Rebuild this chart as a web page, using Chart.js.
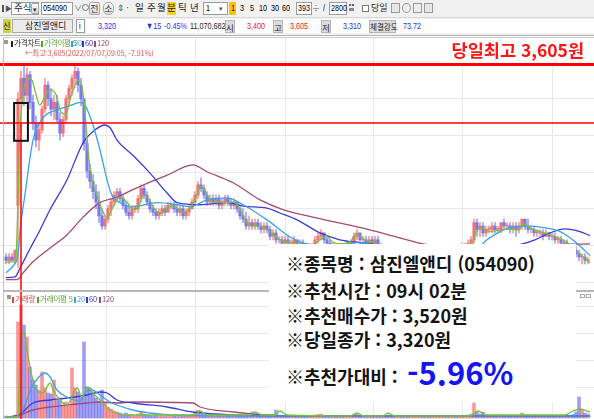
<!DOCTYPE html>
<html lang="ko">
<head>
<meta charset="utf-8">
<script src="https://cdn.jsdelivr.net/npm/chart.js@4.4.0/dist/chart.umd.min.js"></script>
<style>
html,body{margin:0;padding:0;background:#fff;}
#wrap{position:relative;width:594px;height:419px;overflow:hidden;font-family:"Noto Sans CJK KR","Noto Sans",sans-serif;background:#fff;}
.abs{position:absolute;white-space:nowrap;}
.num{font-family:"Liberation Sans",sans-serif;font-size:9px;line-height:14px;transform:scaleX(0.8);transform-origin:0 50%;}
.box{background:#fff;border:1px solid #9a9a9a;box-sizing:border-box;}
.btn{background:linear-gradient(#fbfbfb,#dcdcdc);border:1px solid #a8a8a8;border-radius:2px;box-sizing:border-box;text-align:center;font-size:9px;line-height:11px;color:#333;}
.lbl{background:#dcdcdc;border:1px solid #b4b4b4;box-sizing:border-box;text-align:center;font-size:8.5px;line-height:12px;color:#222;}
.kr{font-size:9.5px;line-height:13px;color:#222;}
.leg{font-size:7.5px;line-height:9px;letter-spacing:-0.2px;}
.mk{display:inline-block;width:2px;height:6px;margin-right:1px;vertical-align:-0.5px;}
.memo{font-weight:700;font-size:18px;line-height:20px;color:#141414;left:286px;}
canvas{position:absolute;left:0;}
</style>
</head>
<body>
<div id="wrap">
  <!-- toolbar row 1 -->
  <div class="abs" style="left:0;top:0;width:594px;height:17px;background:#f1f1f1;"></div>
  <div class="abs" style="left:2px;top:5px;width:2px;height:7px;background:#555;"></div>
  <div class="abs" style="left:5px;top:2px;font-size:7px;line-height:12px;color:#555;">▶</div>
  <div class="abs box" style="left:11px;top:2px;width:28px;height:13px;"></div>
  <div class="abs kr" style="left:14px;top:1px;">주식</div>
  <div class="abs btn" style="left:31px;top:3px;width:8px;height:11px;font-size:7px;">▾</div>
  <div class="abs box" style="left:41px;top:2px;width:32px;height:13px;"></div>
  <div class="abs num" style="left:43px;top:1px;">054090</div>
  <div class="abs" style="left:74px;top:2px;font-size:8px;line-height:12px;color:#666;">∨</div>
  <div class="abs" style="left:82px;top:4px;width:5px;height:5px;border:1px solid #777;border-radius:50%;"></div>
  <div class="abs btn" style="left:89px;top:2px;width:11px;height:13px;">전</div>
  <div class="abs btn" style="left:103px;top:2px;width:11px;height:13px;border-radius:5px;">소</div>
  <div class="abs" style="left:117px;top:1px;font-size:9px;line-height:14px;color:#555;">⇕·</div>
  <div class="abs kr" style="left:135px;top:1px;">일</div>
  <div class="abs kr" style="left:147px;top:1px;">주</div>
  <div class="abs kr" style="left:157px;top:1px;">월</div>
  <div class="abs" style="left:167px;top:2px;width:9px;height:13px;background:#ffd21f;"></div>
  <div class="abs kr" style="left:167px;top:1px;">분</div>
  <div class="abs kr" style="left:178px;top:1px;">틱</div>
  <div class="abs kr" style="left:190px;top:1px;">년</div>
  <div class="abs box" style="left:203px;top:2px;width:25px;height:13px;"></div>
  <div class="abs num" style="left:206px;top:1px;">1</div>
  <div class="abs" style="left:219px;top:1px;font-size:7px;line-height:14px;color:#555;">▾</div>
  <div class="abs" style="left:229px;top:2px;width:7px;height:13px;background:#ffc400;"></div>
  <div class="abs num" style="left:231px;top:1px;color:#222;">1</div>
  <div class="abs num" style="left:240px;top:1px;">3</div>
  <div class="abs num" style="left:250px;top:1px;">5</div>
  <div class="abs num" style="left:259px;top:1px;">10</div>
  <div class="abs num" style="left:271px;top:1px;">30</div>
  <div class="abs num" style="left:282px;top:1px;">60</div>
  <div class="abs box" style="left:296px;top:2px;width:16px;height:13px;"></div>
  <div class="abs num" style="left:298px;top:1px;">393</div>
  <div class="abs" style="left:312px;top:1px;font-size:8px;line-height:14px;color:#555;">÷</div>
  <div class="abs num" style="left:323px;top:1px;">/</div>
  <div class="abs box" style="left:329px;top:2px;width:18px;height:13px;"></div>
  <div class="abs num" style="left:331px;top:1px;">2800</div>
  <div class="abs" style="left:349px;top:4px;width:2px;height:2px;background:#e03030;"></div>
  <div class="abs" style="left:352px;top:4px;width:2px;height:2px;background:#3060e0;"></div>
  <div class="abs" style="left:349px;top:8px;width:5px;height:3px;background:#888;"></div>
  <div class="abs" style="left:362px;top:5px;width:7px;height:7px;border:1px solid #777;background:#fff;box-sizing:border-box;"></div>
  <div class="abs kr" style="left:371px;top:1px;font-size:9px;">당일</div>
  <div class="abs" style="left:391px;top:3px;width:9px;height:10px;border:1px solid #999;background:#e6e6e6;box-sizing:border-box;"></div>
  <div class="abs" style="left:402px;top:3px;width:9px;height:10px;border:1px solid #999;border-radius:50%;background:#eee;box-sizing:border-box;"></div>
  <div class="abs" style="left:413px;top:3px;width:9px;height:10px;border:1px solid #999;background:#eee;box-sizing:border-box;"></div>
  <div class="abs" style="left:424px;top:3px;width:9px;height:10px;border:1px solid #999;background:#e6e6e6;box-sizing:border-box;"></div>

  <!-- toolbar row 2 -->
  <div class="abs" style="left:0;top:17px;width:594px;height:18px;background:#f1f1f1;border-top:1px solid #d8d8d8;box-sizing:border-box;"></div>
  <div class="abs" style="left:86px;top:19px;width:508px;height:14px;background:#fff;"></div>
  <div class="abs" style="left:3px;top:19px;width:8px;height:14px;background:#c8d24c;"></div>
  <div class="abs kr" style="left:3px;top:19px;font-size:8px;">신</div>
  <div class="abs" style="left:12px;top:19px;width:61px;height:14px;background:#ebebeb;border:1px solid #a8a8a8;box-sizing:border-box;"></div>
  <div class="abs kr" style="left:25px;top:19px;font-size:9px;">삼진엘앤디</div>
  <div class="abs box" style="left:76px;top:19px;width:9px;height:14px;"></div>
  <div class="abs num" style="left:79px;top:19px;">i</div>
  <div class="abs num" style="left:98px;top:19px;color:#2233ee;">3,320</div>
  <div class="abs num" style="left:146px;top:19px;color:#2233ee;">▼15</div>
  <div class="abs num" style="left:164px;top:19px;color:#2233ee;">-0.45%</div>
  <div class="abs num" style="left:190px;top:19px;color:#222;">11,070,682</div>
  <div class="abs lbl" style="left:225px;top:20px;width:10px;height:13px;">시</div>
  <div class="abs num" style="left:247px;top:19px;color:#ee2020;">3,400</div>
  <div class="abs lbl" style="left:273px;top:20px;width:10px;height:13px;">고</div>
  <div class="abs num" style="left:290px;top:19px;color:#ee2020;">3,605</div>
  <div class="abs lbl" style="left:321px;top:20px;width:10px;height:13px;">저</div>
  <div class="abs num" style="left:343px;top:19px;color:#2233ee;">3,310</div>
  <div class="abs lbl" style="left:369px;top:20px;width:27px;height:13px;font-size:7.5px;">체결강도</div>
  <div class="abs num" style="left:403px;top:19px;color:#2233ee;">73.72</div>
  <div class="abs" style="left:0;top:35px;width:594px;height:1px;background:#b4b4b4;"></div>

  <!-- chart panes -->
  <canvas id="priceCanvas" width="594" height="252" style="top:38px;"></canvas>
  <canvas id="volCanvas" width="594" height="127" style="top:292px;"></canvas>
  <div class="abs" style="left:3px;top:37px;width:591px;height:1px;background:#cfcfcf;"></div>
  <div class="abs" style="left:3px;top:37px;width:1px;height:382px;background:#c4c4c4;"></div>
  <div class="abs" style="left:3px;top:290px;width:591px;height:2px;background:#b8b8b8;"></div>

  <!-- price pane legend -->
  <div class="abs" style="left:4px;top:40px;width:4px;height:4px;background:#9a9a9a;"></div>
  <div class="abs leg" style="left:11px;top:38px;color:#222;"><span class="mk" style="background:#222"></span>가격차트</div>
  <div class="abs leg" style="left:41px;top:38px;color:#5aa42c;"><span class="mk" style="background:#5aa42c"></span>가격이평 5</div>
  <div class="abs leg" style="left:71px;top:38px;color:#3a9fe0;"><span class="mk" style="background:#3a9fe0"></span>20</div>
  <div class="abs leg" style="left:82px;top:38px;color:#3434c8;"><span class="mk" style="background:#3434c8"></span>60</div>
  <div class="abs leg" style="left:94px;top:38px;color:#a04a72;"><span class="mk" style="background:#a04a72"></span>120</div>
  <div class="abs leg" style="left:25px;top:48px;color:#e45a5a;font-size:7.5px;">←최고:3,605(2022/07/07,09:05, -7.91%)</div>

  <!-- volume pane legend -->
  <div class="abs" style="left:7px;top:295px;width:4px;height:4px;background:#9a9a9a;"></div>
  <div class="abs leg" style="left:12px;top:294px;color:#e04848;"><span class="mk" style="background:#e04848"></span>거래량</div>
  <div class="abs leg" style="left:37px;top:294px;color:#5aa42c;"><span class="mk" style="background:#5aa42c"></span>거래이평 5</div>
  <div class="abs leg" style="left:74px;top:294px;color:#3a9fe0;"><span class="mk" style="background:#3a9fe0"></span>20</div>
  <div class="abs leg" style="left:86px;top:294px;color:#3434c8;"><span class="mk" style="background:#3434c8"></span>60</div>
  <div class="abs leg" style="left:99px;top:294px;color:#a04a72;"><span class="mk" style="background:#a04a72"></span>120</div>
  <div class="abs" style="left:580px;top:294px;width:5px;height:4px;border:1px solid #aaa;box-sizing:border-box;"></div>
  <div class="abs" style="left:586px;top:294px;width:5px;height:4px;border:1px solid #aaa;box-sizing:border-box;"></div>

  <!-- day high caption -->
  <div class="abs" style="left:440px;top:38px;width:154px;height:24px;background:#fff;"></div>
  <div class="abs" style="right:10px;top:38px;font-weight:700;font-size:17.5px;line-height:24px;color:#ff1414;">당일최고 3,605원</div>

  <!-- recommendation memo -->
  <div class="abs" style="left:269px;top:244px;width:307px;height:158px;background:#fff;"></div>
  <div class="abs memo" style="top:253px;">※종목명 : 삼진엘앤디 (054090)</div>
  <div class="abs memo" style="top:280px;">※추천시간 : 09시 02분</div>
  <div class="abs memo" style="top:305px;">※추천매수가 : 3,520원</div>
  <div class="abs memo" style="top:329px;">※당일종가 : 3,320원</div>
  <div class="abs memo" style="top:366px;">※추천가대비 :</div>
  <div class="abs" style="left:407px;top:354px;font-weight:700;font-size:31px;line-height:36px;color:#1414f5;">-5.96%</div>
</div>

<script>
// 2-minute bars from the previous day's last prints through the close
const opens = [
  3325,3320,3325,3320,3400,3555,3585,3560,3590,3550,
  3520,3495,3510,3540,3575,3555,3540,3550,3525,3505,
  3525,3555,3570,3585,3595,3575,3555,3490,3450,3435,
  3420,3405,3385,3370,3380,3395,3405,3415,3420,3410,
  3400,3390,3385,3395,3395,3410,3425,3415,3405,3395,
  3390,3385,3390,3395,3390,3400,3400,3395,3390,3395,
  3385,3390,3395,3405,3415,3430,3425,3415,3405,3410,
  3405,3410,3400,3405,3410,3405,3400,3405,3395,3385,
  3380,3370,3375,3370,3375,3370,3365,3370,3365,3355,
  3360,3350,3350,3345,3350,3345,3345,3350,3340,3345,
  3340,3335,3340,3340,3350,3355,3360,3350,3345,3340,
  3340,3335,3340,3335,3335,3340,3345,3355,3360,3350,
  3350,3345,3350,3345,3350,3340,3335,3335,3330,3330,
  3325,3330,3330,3325,3325,3320,3325,3325,3330,3330,
  3325,3325,3320,3320,3325,3325,3330,3330,3325,3330,
  3335,3330,3335,3340,3340,3345,3350,3375,3365,3370,
  3360,3365,3365,3370,3365,3365,3375,3370,3370,3365,
  3370,3365,3370,3380,3370,3365,3365,3360,3360,3360,
  3355,3360,3355,3355,3350,3350,3345,3345,3340,3340,
  3335,3330,3325,3325,3320
];
const highs = [
  3330,3330,3330,3335,3565,3595,3605,3600,3595,3560,
  3530,3520,3545,3585,3580,3570,3560,3560,3535,3530,
  3560,3575,3590,3605,3600,3585,3555,3495,3460,3445,
  3430,3420,3395,3385,3400,3410,3420,3425,3425,3415,
  3405,3400,3400,3400,3415,3430,3430,3420,3410,3400,
  3395,3395,3400,3400,3405,3405,3405,3400,3400,3400,
  3395,3400,3410,3420,3435,3440,3430,3420,3415,3415,
  3415,3415,3410,3415,3415,3410,3410,3405,3400,3395,
  3390,3385,3380,3380,3380,3375,3375,3375,3370,3365,
  3365,3355,3355,3355,3355,3350,3355,3350,3350,3350,
  3345,3345,3345,3355,3360,3365,3360,3355,3350,3345,
  3345,3345,3345,3340,3345,3350,3360,3365,3360,3355,
  3355,3355,3355,3355,3355,3345,3340,3340,3335,3335,
  3335,3335,3335,3330,3330,3330,3330,3335,3335,3335,
  3330,3330,3325,3330,3330,3335,3335,3335,3335,3340,
  3340,3340,3345,3345,3350,3355,3380,3380,3375,3375,
  3370,3370,3375,3375,3370,3375,3380,3375,3375,3375,
  3375,3375,3380,3380,3380,3370,3370,3365,3365,3365,
  3365,3360,3360,3360,3355,3355,3350,3350,3345,3345,
  3340,3335,3330,3330,3325
];
const lows = [
  3315,3315,3320,3315,3310,3505,3545,3550,3540,3510,
  3485,3480,3505,3535,3545,3530,3525,3520,3495,3500,
  3520,3545,3560,3575,3565,3545,3480,3440,3425,3410,
  3395,3375,3365,3365,3375,3385,3400,3405,3405,3395,
  3385,3380,3380,3390,3390,3405,3410,3400,3390,3385,
  3380,3380,3385,3385,3390,3395,3390,3385,3385,3380,
  3380,3385,3395,3400,3410,3420,3410,3400,3400,3400,
  3400,3395,3395,3400,3400,3395,3395,3390,3380,3375,
  3365,3365,3365,3365,3365,3360,3360,3360,3350,3350,
  3345,3345,3340,3340,3340,3340,3340,3335,3335,3335,
  3330,3330,3335,3335,3345,3350,3345,3340,3335,3335,
  3330,3330,3330,3330,3330,3335,3340,3350,3345,3345,
  3340,3340,3340,3340,3340,3330,3330,3325,3325,3320,
  3320,3325,3320,3320,3315,3315,3320,3320,3325,3320,
  3320,3315,3315,3315,3320,3320,3325,3320,3320,3325,
  3325,3325,3330,3335,3335,3340,3345,3355,3355,3355,
  3355,3360,3360,3360,3360,3360,3365,3365,3360,3360,
  3355,3360,3365,3365,3360,3360,3355,3355,3355,3350,
  3355,3350,3350,3345,3345,3340,3340,3335,3335,3330,
  3325,3320,3315,3315,3315
];
const closes = [
  3320,3325,3320,3335,3555,3585,3560,3590,3550,3520,
  3495,3510,3540,3575,3555,3540,3550,3525,3505,3525,
  3555,3570,3585,3595,3575,3555,3490,3450,3435,3420,
  3405,3385,3370,3380,3395,3405,3415,3420,3410,3400,
  3390,3385,3395,3395,3410,3425,3415,3405,3395,3390,
  3385,3390,3395,3390,3400,3400,3395,3390,3395,3385,
  3390,3395,3405,3415,3430,3425,3415,3405,3410,3405,
  3410,3400,3405,3410,3405,3400,3405,3395,3385,3380,
  3370,3375,3370,3375,3370,3365,3370,3365,3355,3360,
  3350,3350,3345,3350,3345,3345,3350,3340,3345,3340,
  3335,3340,3340,3350,3355,3360,3350,3345,3340,3340,
  3335,3340,3335,3335,3340,3345,3355,3360,3350,3350,
  3345,3350,3345,3350,3340,3335,3335,3330,3330,3325,
  3330,3330,3325,3325,3320,3325,3325,3330,3330,3325,
  3325,3320,3320,3325,3325,3330,3330,3325,3330,3335,
  3330,3335,3340,3340,3345,3350,3375,3365,3370,3360,
  3365,3365,3370,3365,3365,3375,3370,3370,3365,3370,
  3365,3370,3380,3370,3365,3365,3360,3360,3360,3355,
  3360,3355,3355,3350,3350,3345,3345,3340,3340,3335,
  3330,3325,3325,3320,3320
];
// traded volume per bar, thousand shares
const volumes = [
  20,15,20,30,960,1130,930,810,510,380,
  330,280,460,300,250,240,380,180,200,130,
  160,120,500,300,260,220,760,310,300,250,
  200,170,280,150,110,90,70,60,50,40,
  50,35,30,25,40,60,40,30,25,20,
  30,20,25,15,20,15,20,15,20,30,
  20,25,35,50,80,40,35,25,20,15,
  20,15,20,15,20,15,20,25,30,25,
  30,20,60,20,15,20,15,20,25,20,
  80,20,15,20,15,10,15,20,10,15,
  20,10,15,30,35,40,25,15,10,15,
  10,15,10,10,15,20,35,40,20,15,
  10,15,10,15,20,25,15,20,30,25,
  15,10,15,10,20,15,10,15,10,15,
  10,20,15,10,15,10,15,10,15,20,
  15,10,20,15,25,40,150,60,40,60,
  30,20,25,20,15,30,20,15,20,15,
  25,20,50,30,35,20,15,20,15,20,
  15,20,15,25,20,25,20,30,25,35,
  60,210,80,50,40
];

// price moving averages as [bar, price]
const ma5 = [[0,3318],[2.7,3318],[3.3,3324],[4,3408],[4.7,3510],[5.7,3561],[7.3,3585],[8.7,3582],[10,3561],[11.3,3546],[12.7,3556],[14.7,3568],[16.7,3561],[18.3,3536],[20,3532],[21.3,3553],[22.7,3571],[24,3582],[25.3,3572],[26.3,3539],[27.3,3481],[28.7,3437],[30.3,3415],[32,3394],[33.7,3382],[35.7,3398],[38,3412],[40.3,3405],[42.3,3394],[44,3396],[45.7,3415],[47.3,3411],[49.7,3394],[52,3388],[54,3398],[56.3,3398],[59,3390],[61.3,3396],[63.3,3412],[65,3428],[66.7,3418],[68.7,3405],[71.3,3405],[74,3404],[76,3405],[78,3394],[79.7,3379],[82,3370],[84,3370],[86.3,3367],[88.7,3359],[91.3,3350],[94.7,3346],[98,3344],[101.3,3341],[104.7,3350],[106.7,3356],[108.7,3347],[111.3,3344],[114.7,3347],[117,3359],[119.3,3350],[122,3347],[124.7,3341],[128,3333],[138,3328],[148,3331],[154.7,3335],[156.7,3362],[158.7,3367],[161.3,3362],[164.7,3364],[168,3366],[170.7,3364],[172.7,3373],[174.7,3367],[178,3362],[181.3,3357],[184,3353],[186.7,3347],[189.7,3335],[191.7,3328],[193.7,3320],[194.7,3317]];
const ma20 = [[0,3302],[2.7,3314],[4,3328],[4.7,3364],[6.3,3415],[9,3495],[12.3,3527],[17,3539],[21.3,3545],[24.7,3550],[26.3,3546],[29,3517],[31.3,3481],[33.7,3437],[35.3,3415],[38,3404],[42.3,3398],[50.3,3404],[57,3401],[61.3,3398],[67,3408],[73.7,3411],[79,3401],[87,3379],[94.7,3354],[98,3347],[104.7,3341],[117,3346],[124.7,3341],[138,3333],[151.3,3331],[157.3,3338],[160.3,3350],[164.7,3362],[169,3369],[174.7,3370],[180.3,3367],[184.7,3362],[188,3353],[191.3,3341],[194.7,3327]];
const ma60 = [[0,3295],[3,3296],[4.7,3309],[8,3337],[11.3,3364],[14.7,3394],[20.3,3437],[25.7,3491],[29.7,3510],[33,3517],[34.7,3513],[37,3495],[42.3,3473],[48,3447],[53.7,3418],[57,3404],[64.7,3401],[73.7,3404],[79,3399],[87,3396],[91.3,3389],[97,3379],[104.7,3360],[111.3,3350],[118,3346],[129,3341],[141.3,3335],[154.7,3334],[164.7,3337],[171.3,3343],[176.3,3350],[181.3,3360],[186.3,3366],[191.3,3362],[194.7,3356]];
const ma120 = [[0,3292],[3.7,3292],[5.7,3302],[9,3318],[14.7,3338],[20.3,3357],[25.7,3383],[31.3,3404],[37,3412],[42.3,3423],[48,3434],[53.7,3444],[62.3,3459],[67,3449],[75.7,3433],[84.7,3408],[92.3,3394],[102.3,3383],[119,3367],[130.3,3354],[140.3,3343],[154.7,3338],[171.3,3340],[184.7,3343],[194.7,3344]];

// volume moving averages as [bar, thousand shares]
const vma5 = [[0,10],[3,10],[4,20],[4.7,710],[5.7,880],[7,680],[8.7,410],[10.3,280],[12.3,250],[14.7,350],[15.7,280],[18,180],[20.3,130],[23.7,300],[25.3,210],[27.3,310],[29,250],[31.3,180],[34.7,80],[40.3,30],[48,30],[63,30],[64.7,70],[67,30],[81.3,30],[83,60],[85.3,30],[89.7,30],[91.3,70],[93.7,30],[114.7,20],[117,50],[119.3,20],[125.7,20],[127.3,50],[129.7,20],[154.7,20],[157.3,70],[160,30],[186.3,30],[189,70],[191.3,90],[194.7,60]];
const vma20 = [[0,10],[3,10],[4,10],[9,330],[13,450],[14.7,410],[17,280],[20.3,210],[24.7,170],[26.3,260],[28.7,280],[31.3,230],[34.7,160],[42.3,80],[48,50],[54.7,30],[81.3,20],[194.7,20]];
const vma60 = [[0,10],[3.7,20],[9,150],[14.7,180],[20.3,200],[27,230],[31.3,260],[33.7,250],[37,180],[42.3,150],[53.7,110],[62.3,60],[75.7,30],[98,20],[194.7,20]];
const vma120 = [[0,10],[3.7,20],[9,80],[14.7,110],[20.3,130],[27,150],[31.3,160],[37,150],[42.3,160],[62.3,150],[64.7,110],[75.7,60],[87,30],[98,20],[194.7,20]];

// reference levels
const dayHigh = 3605;        // 당일최고
const recPrice = 3520;       // 추천매수가
const recBar = 5;            // 09:02 추천시간
const focusBars = [2.7, 7.3];
const focusPrices = [3494, 3549];

// axis guides
const hourBars = [33.3, 63, 93, 122.3, 152, 182];
const priceGrid = [3610, 3556, 3502, 3449, 3396, 3343, 3289];
const volumeGrid = [1120, 850, 580, 310];

const UP = 'rgba(238,70,70,0.55)';
const DOWN = 'rgba(70,70,232,0.52)';
const C5 = '#78c03c', C20 = '#3aa2ea', C60 = '#3c3cd6', C120 = '#a24c74';

const idx = closes.map((_, i) => i);
const dirColor = idx.map(i => closes[i] >= opens[i] ? UP : DOWN);
const pts = arr => arr.map(([x, y]) => ({x, y}));

function lineSet(data, color, order) {
  return {type: 'line', data: pts(data), borderColor: color, borderWidth: 1.3, pointRadius: 0,
          tension: 0.3, cubicInterpolationMode: 'monotone', fill: false, order};
}

function gridPlugin(yTicks) {
  return {
    id: 'paneGrid',
    beforeDatasetsDraw(chart) {
      const {ctx, chartArea: a, scales: {x, y}} = chart;
      ctx.save();
      ctx.strokeStyle = '#e9e9e9';
      ctx.lineWidth = 1;
      ctx.beginPath();
      hourBars.forEach(v => { const p = Math.round(x.getPixelForValue(v)) + 0.5; ctx.moveTo(p, a.top); ctx.lineTo(p, a.bottom); });
      yTicks.forEach(v => { const p = Math.round(y.getPixelForValue(v)) + 0.5; ctx.moveTo(a.left, p); ctx.lineTo(a.right, p); });
      ctx.stroke();
      ctx.restore();
    }
  };
}

const priceMarks = {
  id: 'priceMarks',
  afterDatasetsDraw(chart) {
    const {ctx, chartArea: a, scales: {x, y}} = chart;
    ctx.save();
    ctx.strokeStyle = '#ff0000';
    // entry level
    const yr = y.getPixelForValue(recPrice);
    ctx.lineWidth = 1.5;
    ctx.beginPath(); ctx.moveTo(a.left, yr); ctx.lineTo(a.right, yr); ctx.stroke();
    // entry time
    const xr = x.getPixelForValue(recBar);
    ctx.beginPath(); ctx.moveTo(xr, yr); ctx.lineTo(xr, a.bottom); ctx.stroke();
    // intraday high
    const yh = y.getPixelForValue(dayHigh);
    ctx.lineWidth = 3;
    ctx.beginPath(); ctx.moveTo(a.left, yh); ctx.lineTo(a.right, yh); ctx.stroke();
    // focus frame around the entry bars
    const x0 = x.getPixelForValue(focusBars[0]), x1 = x.getPixelForValue(focusBars[1]);
    const y0 = y.getPixelForValue(focusPrices[1]), y1 = y.getPixelForValue(focusPrices[0]);
    ctx.strokeStyle = '#111';
    ctx.lineWidth = 2;
    ctx.strokeRect(x0, y0, x1 - x0, y1 - y0);
    ctx.restore();
  }
};

const volMarks = {
  id: 'volMarks',
  afterDatasetsDraw(chart) {
    const {ctx, chartArea: a, scales: {x}} = chart;
    const xr = x.getPixelForValue(recBar);
    ctx.save();
    ctx.strokeStyle = '#ff0000';
    ctx.lineWidth = 1.5;
    ctx.beginPath(); ctx.moveTo(xr, a.top); ctx.lineTo(xr, a.bottom); ctx.stroke();
    ctx.restore();
  }
};

const xScale = {type: 'linear', min: -2, max: 196, offset: false, bounds: 'ticks', display: false};
const common = {responsive: false, animation: false, devicePixelRatio: 1,
  layout: {padding: 0}, events: [],
  plugins: {legend: {display: false}, tooltip: {enabled: false}}};

new Chart(document.getElementById('priceCanvas'), {
  type: 'bar',
  data: {
    datasets: [
      lineSet(ma5, C5, 1),
      lineSet(ma20, C20, 2),
      lineSet(ma60, C60, 3),
      lineSet(ma120, C120, 4),
      {label: 'body', data: idx.map(i => ({x: i, y: [opens[i], closes[i]]})),
       backgroundColor: dirColor, borderWidth: 0, barThickness: 3, minBarLength: 1, grouped: false, order: 10},
      {label: 'wick', data: idx.map(i => ({x: i, y: [lows[i], highs[i]]})),
       backgroundColor: dirColor, borderWidth: 0, barThickness: 1, grouped: false, order: 11}
    ]
  },
  options: Object.assign({}, common, {
    scales: {x: xScale, y: {type: 'linear', min: 3277, max: 3643.5, display: false}}
  }),
  plugins: [gridPlugin(priceGrid), priceMarks]
});

new Chart(document.getElementById('volCanvas'), {
  type: 'bar',
  data: {
    datasets: [
      lineSet(vma5, C5, 1),
      lineSet(vma20, C20, 2),
      lineSet(vma60, C60, 3),
      lineSet(vma120, C120, 4),
      {label: 'volume', data: idx.map(i => ({x: i, y: volumes[i]})),
       backgroundColor: dirColor, borderWidth: 0, barThickness: 3, grouped: false, order: 10}
    ]
  },
  options: Object.assign({}, common, {
    scales: {x: xScale, y: {type: 'linear', min: -10, max: 1260, display: false}}
  }),
  plugins: [gridPlugin(volumeGrid), volMarks]
});
</script>
</body>
</html>
